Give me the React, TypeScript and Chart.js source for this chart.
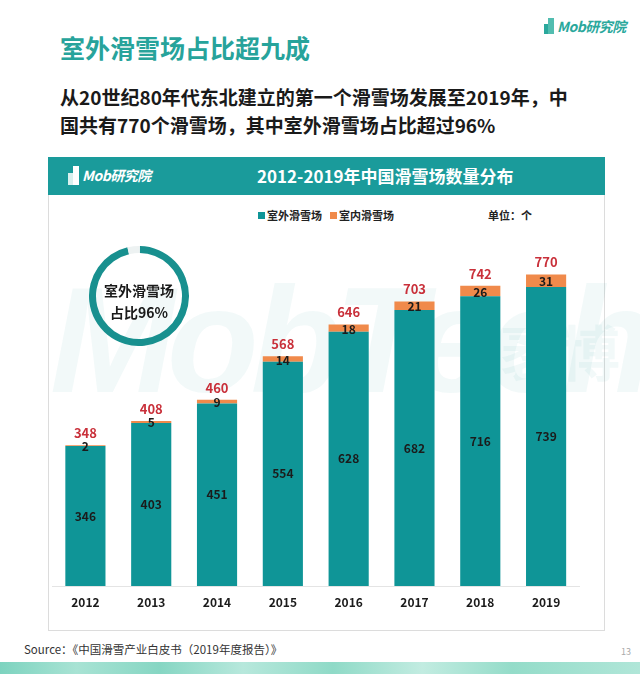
import React, { useEffect, useRef } from "react";
import { Chart, registerables } from "chart.js";
Chart.register(...registerables);

const years = ["2012", "2013", "2014", "2015", "2016", "2017", "2018", "2019"];
const outdoor = [346, 403, 451, 554, 628, 682, 716, 739];
const indoor = [2, 5, 9, 14, 18, 21, 26, 31];
const totals = [348, 408, 460, 568, 646, 703, 742, 770];
const seriesNames = ["室外滑雪场", "室内滑雪场"];
const shareLabels = ["室外滑雪场", "室内滑雪场"];
const shareValues = [96, 4];

const FONT = '"Noto Sans CJK SC", "Noto Sans", sans-serif';
const TEAL = "#0f9597";
const ORANGE = "#f08a4b";

const labelPlugin = {
  id: "stackLabels",
  afterDatasetsDraw(chart: any) {
    const ctx = chart.ctx;
    const m0 = chart.getDatasetMeta(0);
    const m1 = chart.getDatasetMeta(1);
    ctx.save();
    ctx.textAlign = "center";
    ctx.textBaseline = "middle";
    ctx.font = `bold 12px ${FONT}`;
    ctx.fillStyle = "#1b1b1b";
    m0.data.forEach((bar: any, i: number) => {
      ctx.fillText(String(outdoor[i]), bar.x, (bar.y + bar.base) / 2);
    });
    m1.data.forEach((bar: any, i: number) => {
      ctx.fillText(String(indoor[i]), bar.x, (bar.y + bar.base) / 2 + 1);
    });
    ctx.font = `bold 13px ${FONT}`;
    ctx.fillStyle = "#c9303a";
    m1.data.forEach((bar: any, i: number) => {
      ctx.fillText(String(totals[i]), bar.x, bar.y - 12);
    });
    ctx.restore();
  },
};

function BarChart() {
  const ref = useRef<HTMLCanvasElement>(null);
  useEffect(() => {
    const chart = new Chart(ref.current!, {
      type: "bar",
      data: {
        labels: years,
        datasets: [
          { label: seriesNames[0], data: outdoor, backgroundColor: TEAL, categoryPercentage: 1, barPercentage: 0.61 },
          { label: seriesNames[1], data: indoor, backgroundColor: ORANGE, categoryPercentage: 1, barPercentage: 0.61 },
        ],
      },
      options: {
        animation: false,
        responsive: false,
        maintainAspectRatio: false,
        layout: { padding: { left: 3.5, right: 20, top: 48, bottom: 11.6 } },
        plugins: { legend: { display: false }, tooltip: { enabled: false } },
        scales: {
          x: {
            stacked: true,
            grid: { display: false, drawTicks: false },
            border: { display: true, color: "#e4e4e4" },
            ticks: { padding: 9, color: "#1b1b1b", font: { family: FONT, size: 12, weight: "bold" } },
          },
          y: { stacked: true, display: false, min: 0, max: 850 },
        },
      },
      plugins: [labelPlugin],
    });
    return () => chart.destroy();
  }, []);
  return <canvas ref={ref} width={550} height={436} style={{ position: "absolute", left: 49, top: 194, width: 550, height: 436 }} />;
}

function Donut() {
  const ref = useRef<HTMLCanvasElement>(null);
  useEffect(() => {
    const chart = new Chart(ref.current!, {
      type: "doughnut",
      data: {
        labels: shareLabels,
        datasets: [{ data: shareValues, backgroundColor: ["#18908f", "#edf2f2"], borderWidth: 0 }],
      },
      options: {
        animation: false,
        responsive: false,
        maintainAspectRatio: false,
        rotation: 1,
        cutout: "86%",
        plugins: { legend: { display: false }, tooltip: { enabled: false } },
      },
    });
    return () => chart.destroy();
  }, []);
  return <canvas ref={ref} width={100} height={100} style={{ position: "absolute", left: 89, top: 246, width: 100, height: 100 }} />;
}

export default function App() {
  const abs = (s: any) => ({ position: "absolute" as const, ...s });
  return (
    <div style={{ position: "absolute", left: 0, top: 0, width: 640, height: 674, background: "#fff", overflow: "hidden", fontFamily: FONT }}>
      {/* top-right logo */}
      <div style={abs({ left: 544, top: 18, width: 10, height: 16 })}>
        <div style={abs({ left: 0, top: 6, width: 5, height: 10, background: "#2aa89c" })} />
        <div style={abs({ left: 4, top: 0, width: 6, height: 16, background: "#52bdb0" })} />
      </div>
      <div style={abs({ left: 557, top: 16, fontSize: 14, fontStyle: "italic", fontWeight: 700, color: "#2aa89c", letterSpacing: -0.5 })}>Mob研究院</div>

      <div style={abs({ left: 60, top: 30, fontSize: 25, fontWeight: 700, color: "#27a39b", lineHeight: "34px" })}>室外滑雪场占比超九成</div>
      <div style={abs({ left: 60, top: 83, fontSize: 19, fontWeight: 700, color: "#1a1a1a", lineHeight: "28px", whiteSpace: "nowrap" })}>
        从20世纪80年代东北建立的第一个滑雪场发展至2019年，中
        <br />
        国共有770个滑雪场，其中室外滑雪场占比超过96%
      </div>

      {/* panel */}
      <div style={abs({ left: 48, top: 157, width: 557, height: 474, border: "1px solid #dcdcdc", boxSizing: "border-box" })} />
      <div style={abs({ left: 48, top: 157, width: 557, height: 38, background: "#1a9b9b" })} />
      <div style={abs({ left: 68, top: 166, width: 11, height: 19 })}>
        <div style={abs({ left: 0, top: 7, width: 6, height: 12, background: "#d8f0ee" })} />
        <div style={abs({ left: 5, top: 0, width: 6, height: 19, background: "#ffffff" })} />
      </div>
      <div style={abs({ left: 82, top: 165, fontSize: 14, fontStyle: "italic", fontWeight: 700, color: "#fff", letterSpacing: -0.5 })}>Mob研究院</div>
      <div style={abs({ left: 257, top: 157, height: 38, lineHeight: "38px", whiteSpace: "nowrap", fontSize: 17, fontWeight: 700, color: "#fff" })}>
        2012-2019年中国滑雪场数量分布
      </div>

      {/* watermark */}
      <div style={abs({ left: 50, top: 250, fontSize: 150, fontStyle: "italic", fontWeight: 700, color: "rgba(40,160,150,0.06)", whiteSpace: "nowrap", fontFamily: '"Liberation Sans", sans-serif', letterSpacing: -8, lineHeight: "180px" })}>
        MobTech
      </div>
      <div style={abs({ left: 500, top: 280, fontSize: 60, fontWeight: 700, color: "rgba(40,160,150,0.06)", whiteSpace: "nowrap", lineHeight: "140px" })}>袤博</div>

      {/* legend */}
      <div style={abs({ left: 258, top: 212, width: 7, height: 7, background: TEAL })} />
      <div style={abs({ left: 267, top: 206, fontSize: 11, fontWeight: 700, color: "#222", lineHeight: "18px" })}>{seriesNames[0]}</div>
      <div style={abs({ left: 330, top: 212, width: 7, height: 7, background: ORANGE })} />
      <div style={abs({ left: 339, top: 206, fontSize: 11, fontWeight: 700, color: "#222", lineHeight: "18px" })}>{seriesNames[1]}</div>
      <div style={abs({ left: 488, top: 206, fontSize: 11, fontWeight: 700, color: "#222", lineHeight: "18px" })}>单位：个</div>

      <BarChart />
      <Donut />
      <div style={abs({ left: 89, top: 279, width: 100, textAlign: "center", fontSize: 14, fontWeight: 700, color: "#1a1a1a", lineHeight: "22px" })}>
        室外滑雪场
        <br />
        占比96%
      </div>

      {/* footer */}
      <div style={abs({ left: 24, top: 640, fontSize: 11.5, color: "#333", lineHeight: "18px", whiteSpace: "nowrap" })}>Source：《中国滑雪产业白皮书（2019年度报告）》</div>
      <div style={abs({ left: 621, top: 645, fontSize: 9, color: "#aaa" })}>13</div>
      <div style={abs({ left: 0, top: 662, width: 640, height: 12, background: "linear-gradient(90deg,#7dd3bf 0%,#a8e3d4 12%,#86d6c3 25%,#b7e8dc 38%,#8fdac7 52%,#c2ece1 66%,#94dcc9 80%,#b0e6d8 100%)" })} />
    </div>
  );
}
